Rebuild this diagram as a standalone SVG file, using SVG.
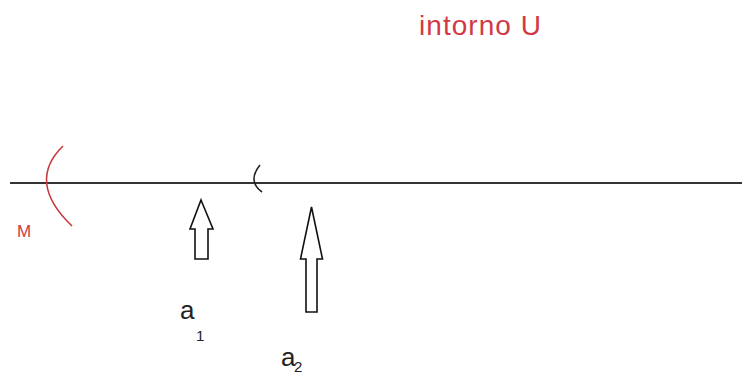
<svg xmlns="http://www.w3.org/2000/svg" width="742" height="376" viewBox="0 0 742 376">
<style>
.red{fill:#d13a44;font-family:"Liberation Sans",Arial,sans-serif}
.blk{fill:#222;font-family:"Liberation Sans",Arial,sans-serif}
.arrow{fill:#fff;stroke:#111;stroke-width:1.6}
.curve{fill:none;stroke-width:1.6}
</style>
<rect width="742" height="376" fill="#fff"/>
<g id="connectors">
<line x1="10" y1="183" x2="742" y2="183" stroke="#333" stroke-width="2"/>
</g>
<g id="intorno-label"><text class="red" x="419" y="35" font-size="28" textLength="122">intorno U</text></g>
<g id="M">
<path class="curve" stroke="#c8383c" d="M63,146 Q26,182 72,226"/>
<text class="red" x="17" y="237" font-size="17">M</text>
</g>
<g id="bracket"><path class="curve" stroke="#222" d="M260,165 Q247,181 262,192"/></g>
<g id="a1">
<polygon class="arrow" points="201,200 213,229 208,229 208,259 195,259 195,229 190,229"/>
<text class="blk" x="180" y="319" font-size="26">a</text>
<text class="blk" x="196" y="341" font-size="15">1</text>
</g>
<g id="a2">
<polygon class="arrow" points="311.5,207 322.5,259 317,259 317,312 306,312 306,259 300.5,259"/>
<text class="blk" x="281" y="366" font-size="26">a</text>
<text class="blk" x="294" y="372" font-size="15">2</text>
</g>
</svg>
